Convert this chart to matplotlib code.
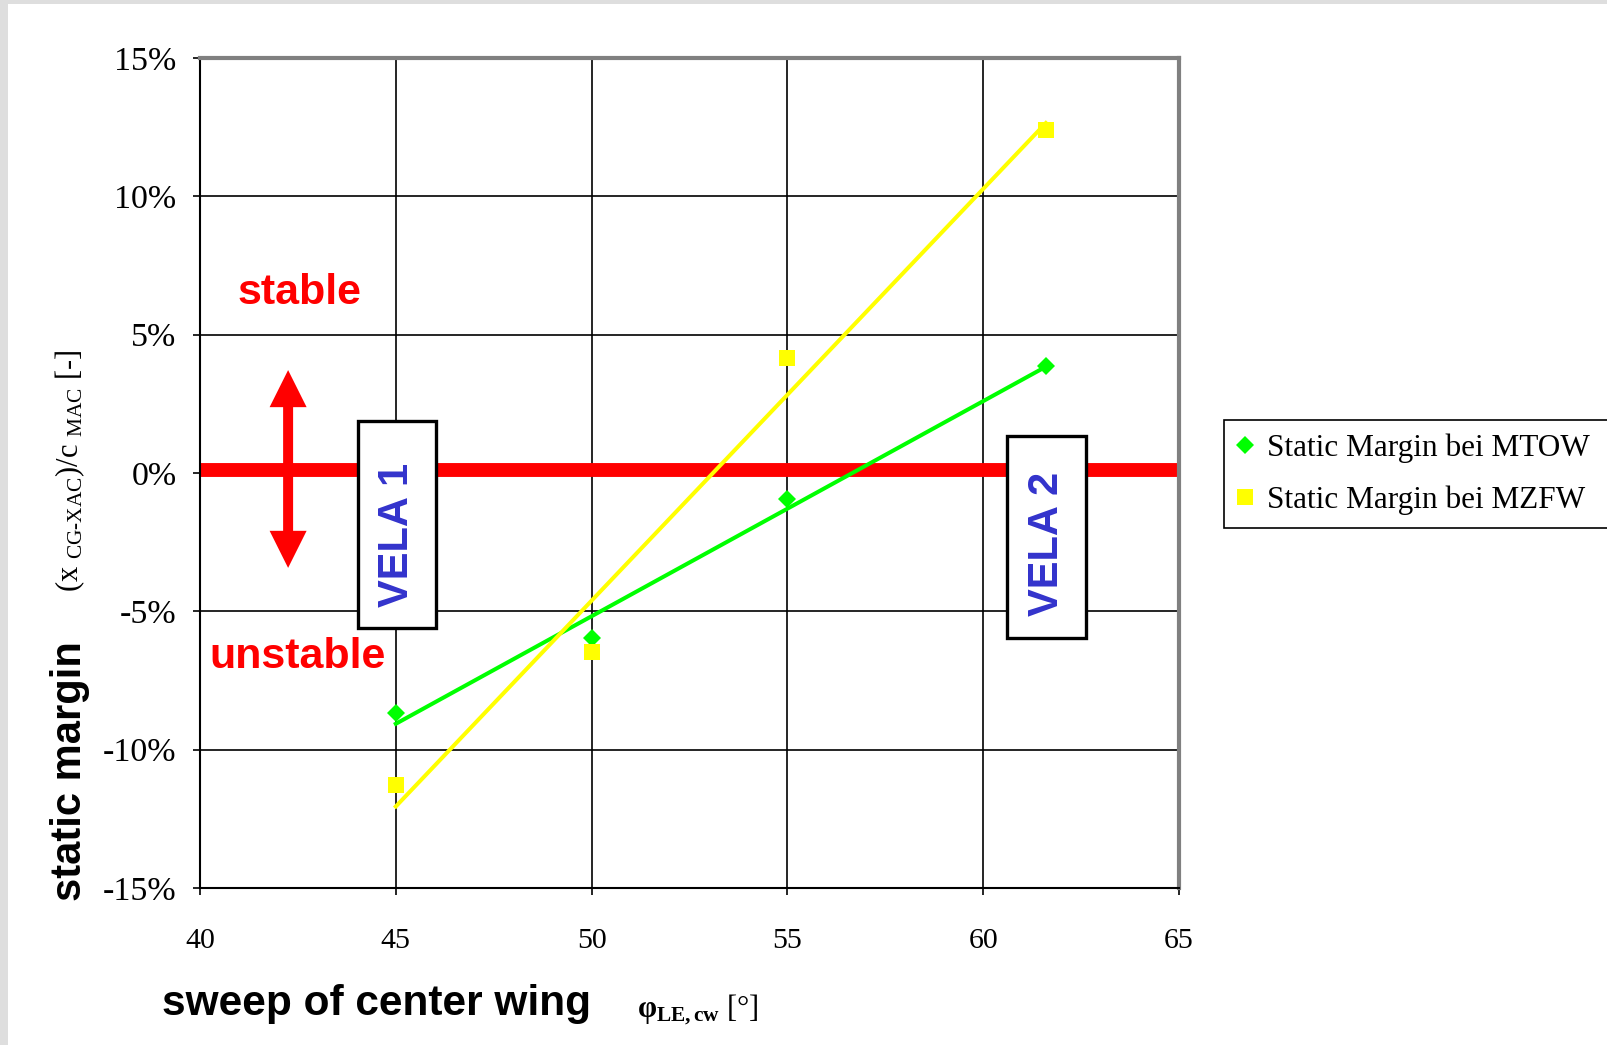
import matplotlib.pyplot as plt
import numpy as np
from matplotlib.lines import Line2D
from matplotlib.patches import Rectangle, FancyArrow

plt.rcParams['mathtext.fontset'] = 'custom'
plt.rcParams['mathtext.rm'] = 'Liberation Serif'
plt.rcParams['mathtext.bf'] = 'Liberation Serif:bold'
plt.rcParams['mathtext.it'] = 'Liberation Serif:italic'

# sweep angle of the centre wing [deg] and static margin [%]
sweep = [45, 50, 55, 61.6]
sm_mtow = [-8.66, -5.95, -0.95, 3.87]
sm_mzfw = [-11.29, -6.47, 4.17, 12.40]
series_labels = ['Static Margin bei MTOW', 'Static Margin bei MZFW']

x_ticks = [40, 45, 50, 55, 60, 65]
y_ticks = [-15, -10, -5, 0, 5, 10, 15]
y_tick_labels = ['-15%', '-10%', '-5%', '0%', '5%', '10%', '15%']

W, H = 1607, 1045
fig = plt.figure(figsize=(W / 100, H / 100), dpi=100, facecolor='#dedede')
fig.add_artist(Rectangle((8 / W, 0), 1, 1 - 4 / H, transform=fig.transFigure,
                         facecolor='white', edgecolor='none', zorder=-5))

ax = fig.add_axes([200 / W, 1 - 888 / H, 979 / W, 830 / H])
ax.set_xlim(40, 65)
ax.set_ylim(-15, 15)
ax.set_xticks(x_ticks)
ax.set_xticklabels([str(t) for t in x_ticks])
ax.set_yticks(y_ticks)
ax.set_yticklabels(y_tick_labels)
ax.tick_params(direction='out', length=5, width=1.2)
ax.tick_params(axis='x', pad=24, labelsize=21.5)
ax.tick_params(axis='y', pad=12, labelsize=24.5)
for lab in ax.get_xticklabels() + ax.get_yticklabels():
    lab.set_family('Liberation Serif')

ax.grid(True, color='black', lw=1.2, zorder=0)
ax.set_axisbelow(True)
for side in ['top', 'right']:
    ax.spines[side].set_color('#808080')
    ax.spines[side].set_linewidth(3)
for side in ['left', 'bottom']:
    ax.spines[side].set_color('black')
    ax.spines[side].set_linewidth(1.5)

# stability boundary
ax.axhline(0.12, color='#ff0000', lw=10, zorder=2)

# linear trend lines
xs = np.array([min(sweep), max(sweep)])
for vals, col in [(sm_mtow, '#00ff00'), (sm_mzfw, '#ffff00')]:
    k, d = np.polyfit(sweep, vals, 1)
    ax.plot(xs, k * xs + d, color=col, lw=2.9, zorder=3)

ax.plot(sweep, sm_mtow, ls='none', marker='D', ms=9, color='#00ff00',
        markeredgewidth=0, zorder=4)
ax.plot(sweep, sm_mzfw, ls='none', marker='s', ms=11, color='#ffff00',
        markeredgewidth=0, zorder=4)

# stable / unstable arrow
ax_x, w, hw, hl = 42.25, 0.255, 0.945, 1.34
mid = 0.15
ax.add_patch(FancyArrow(ax_x, mid, 0, 3.72 - mid, width=w, head_width=hw,
                        head_length=hl, length_includes_head=True,
                        color='#ff0000', lw=0, zorder=5))
ax.add_patch(FancyArrow(ax_x, mid, 0, -3.43 - mid, width=w, head_width=hw,
                        head_length=hl, length_includes_head=True,
                        color='#ff0000', lw=0, zorder=5))
ax.text(42.55, 6.5, 'stable', color='#ff0000', fontsize=31, weight='bold',
        family='Liberation Sans', ha='center', va='center', zorder=6)
ax.text(42.5, -6.65, 'unstable', color='#ff0000', fontsize=31, weight='bold',
        family='Liberation Sans', ha='center', va='center', zorder=6)

# configuration boxes
for x0, x1, y0, y1, dy, name in [(44.03, 46.02, -5.6, 1.88, -0.37, 'VELA 1'),
                                 (60.62, 62.63, -5.98, 1.32, -0.25, 'VELA 2')]:
    ax.add_patch(Rectangle((x0, y0), x1 - x0, y1 - y0, facecolor='white',
                           edgecolor='black', lw=2.4, zorder=7))
    ax.text((x0 + x1) / 2, (y0 + y1) / 2 + dy, name, rotation=90,
            color='#3333cc', fontsize=30, weight='bold',
            family='Liberation Sans', ha='center', va='center', zorder=8)

# legend box runs on past the right edge of the figure
handles = [Line2D([], [], ls='none', marker='D', ms=9, color='#00ff00', markeredgewidth=0),
           Line2D([], [], ls='none', marker='s', ms=11, color='#ffff00', markeredgewidth=0)]
leg = fig.legend(handles, series_labels, loc='upper left',
                 bbox_to_anchor=(1224 / W, 1 - 420 / H, 420 / W, 0), mode='expand',
                 prop={'family': 'Liberation Serif', 'size': 22.5},
                 frameon=True, fancybox=False, framealpha=1, edgecolor='black',
                 handlelength=0.5, handletextpad=0.45, borderpad=0.42,
                 labelspacing=0.72, borderaxespad=0)
leg.get_frame().set_linewidth(1.2)

# axis titles
fig.text(70 / W, 1 - 771 / H, 'static margin', rotation=90, fontsize=30,
         weight='bold', family='Liberation Sans', ha='center', va='center')
fig.text(70 / W, 1 - 471 / H,
         r'$\mathrm{(x\ _{CG\text{-}XAC})/c\ _{MAC}}\ \text{[-]}$',
         rotation=90, fontsize=22, ha='center', va='center')
fig.text(377 / W, 1 - 1004 / H, 'sweep of center wing', fontsize=30.5,
         weight='bold', family='Liberation Sans', ha='center', va='center')
fig.text(698 / W, 1 - 1010 / H, r'$\mathbf{\varphi_{LE,cw}}$ [°]', fontsize=22,
         family='Liberation Serif', ha='center', va='center')

fig.savefig('out.png', dpi=100, facecolor=fig.get_facecolor())
